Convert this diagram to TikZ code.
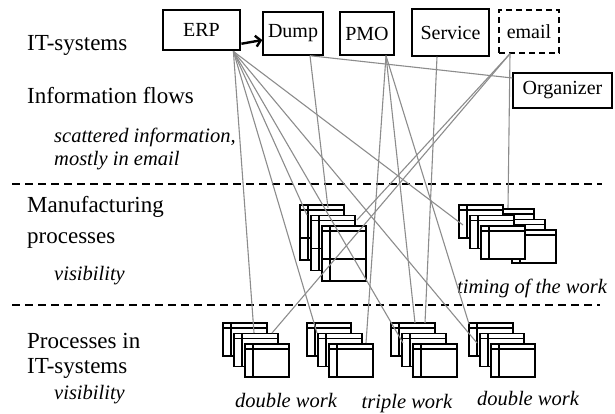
\documentclass[tikz,border=0pt]{standalone}
\usepackage{fontspec}
\setmainfont{Liberation Serif}
\usetikzlibrary{arrows.meta}

\definecolor{flowgray}{RGB}{140,140,140}

% one sheet icon: top-left x, y, width, height
\newcommand{\sheet}[4]{%
	\draw[sheetline, fill=white] (#1,#2) rectangle ++(#3,#4);
	\draw[sheetline] (#1,#2+5) -- ++(#3,0);
	\draw[sheetline] (#1+8,#2) -- ++(0,#4);
}
% taller sheet with an extra rule
\newcommand{\tallsheet}[2]{%
	\sheet{#1}{#2}{44}{55}
	\draw[sheetline] (#1,#2+33) -- ++(44,0);
}

\begin{document}
\begin{tikzpicture}
	[x=1pt, y=-1pt,
		rowtext/.style	={font=\fontsize{23}{27}\selectfont
									, anchor=base west
									, inner sep=0pt
									},
		rownote/.style	={font=\fontsize{20.5}{24}\selectfont\itshape
									, inner sep=0pt
									},
		sysbox/.style		={rectangle
									, draw
									, line width=1.4pt
									, font=\fontsize{20}{24}\selectfont
									, inner sep=0pt
									},
		sheetline/.style	={line width=1.5pt
									},
		flow/.style			={draw=flowgray
									, line width=1.1pt
									},
		sepline/.style	={line width=1.8pt
									, dash pattern=on 8pt off 5pt
									}
	]
\useasboundingbox (0,0) rectangle (615,413);

% row labels
\node [rowtext] (it)		at (27,50)	{IT-systems};
\node [rowtext] (flows)	at (27,103)	{Information flows};
\node [rownote, anchor=base west] (scat1) at (54,142) {scattered information,};
\node [rownote, anchor=base west] (scat2) at (54,165) {mostly in email};
\node [rowtext] (manu1)	at (27,212)	{Manufacturing};
\node [rowtext] (manu2)	at (27,243)	{processes};
\node [rownote, anchor=base west] (vis1) at (54,280) {visibility};
\node [rowtext] (proc1)	at (27,348)	{Processes in};
\node [rowtext] (proc2)	at (27,373)	{IT-systems};
\node [rownote, anchor=base west] (vis2) at (54,399) {visibility};

% separators
\draw [sepline] (12,184) -- (602,184);
\draw [sepline] (12,305) -- (600,305);

% systems
\node [sysbox, line width=2.8pt, minimum width=77, minimum height=40] (erp)	at (201.5,30)	{ERP};
\node [sysbox, minimum width=60, minimum height=43]	(dump)	at (293,33.5)	{Dump};
\node [sysbox, minimum width=54, minimum height=43]	(pmo)		at (367,33.5)	{PMO};
\node [sysbox, minimum width=77, minimum height=47]	(svc)		at (450.5,32.5)	{Service};
\node [sysbox, dash pattern=on 6pt off 4pt, minimum width=60, minimum height=43]	(mail)	at (529,31.5)	{email};
\node [sysbox, minimum width=99, minimum height=35]	(org)		at (562.5,90.5)	{Organizer};

\draw [-{Straight Barb[length=5pt,width=11pt]}, line width=2.4pt] (erp.-19) -- (dump.192);

% manufacturing processes
\foreach \i in {0,1,2}
	{\tallsheet{300+11*\i}{205+10.5*\i}}
\foreach \i in {0,1,2}
	{\sheet{490+11*\i}{209+10.5*\i}{44}{33}}
\foreach \i in {0,1,2}
	{\sheet{459+11*\i}{205+10.5*\i}{44}{33}}

% processes in IT-systems
\foreach \sx in {223,307,391,469}
	{\foreach \i in {0,1,2}
		{\sheet{\sx+11*\i}{323+10.5*\i}{44}{33}}}

% bottom notes
\node [rownote, anchor=base] (timing)	at (532,293)	{timing of the work};
\node [rownote, anchor=base] (double1)	at (286,407)	{double work};
\node [rownote, anchor=base] (triple)	at (407,408)	{triple work};
\node [rownote, anchor=base] (double2)	at (528,405)	{double work};

% line ends
\coordinate (erp out)		at ([xshift=-8pt]erp.south east);
\coordinate (dump out)	at ([xshift=17pt]dump.south);
\coordinate (pmo out)		at ([xshift=19pt]pmo.south);
\coordinate (svc out)		at ([xshift=-13.5pt]svc.south);
\coordinate (mail out)	at ([xshift=-19pt]mail.south);

\coordinate (it1 erp)	at (254,333);
\coordinate (it1 mail)	at (272,333);
\coordinate (it2 erp)	at (317,333);
\coordinate (it2 pmo)	at (366,343);
\coordinate (it3 erp)	at (403,343);
\coordinate (it3 pmo)	at (415,323);
\coordinate (it3 svc)	at (425,323);
\coordinate (it4 erp)	at (477,343);
\coordinate (it4 pmo)	at (469,324);
\coordinate (mf1 erp)	at (307,215);
\coordinate (mf1 dump)	at (328,208);
\coordinate (mf1 mail)	at (357,220);
\coordinate (mf2 erp)	at (463,225);
\coordinate (mf2 mail)	at (508,208);

\begin{scope}[every path/.style=flow]
	\path	(erp out)	-- (it1 erp);
	\path	(erp out)	-- (it2 erp);
	\path	(erp out)	-- (mf1 erp);
	\path	(erp out)	-- (it3 erp);
	\path	(erp out)	-- (it4 erp);
	\path	(erp out)	-- (mf2 erp);
	\path	(dump out)	-- (mf1 dump);
	\path	(dump out)	-- (org.166);
	\path	(pmo out)	-- (it2 pmo);
	\path	(pmo out)	-- (it3 pmo);
	\path	(pmo out)	-- (it4 pmo);
	\path	(svc out)	-- (it3 svc);
	\path	(mail out)	-- (mf1 mail);
	\path	(mail out)	-- (it1 mail);
	\path	(mail out)	-- (mf2 mail);
\end{scope}
\end{tikzpicture}
\end{document}
